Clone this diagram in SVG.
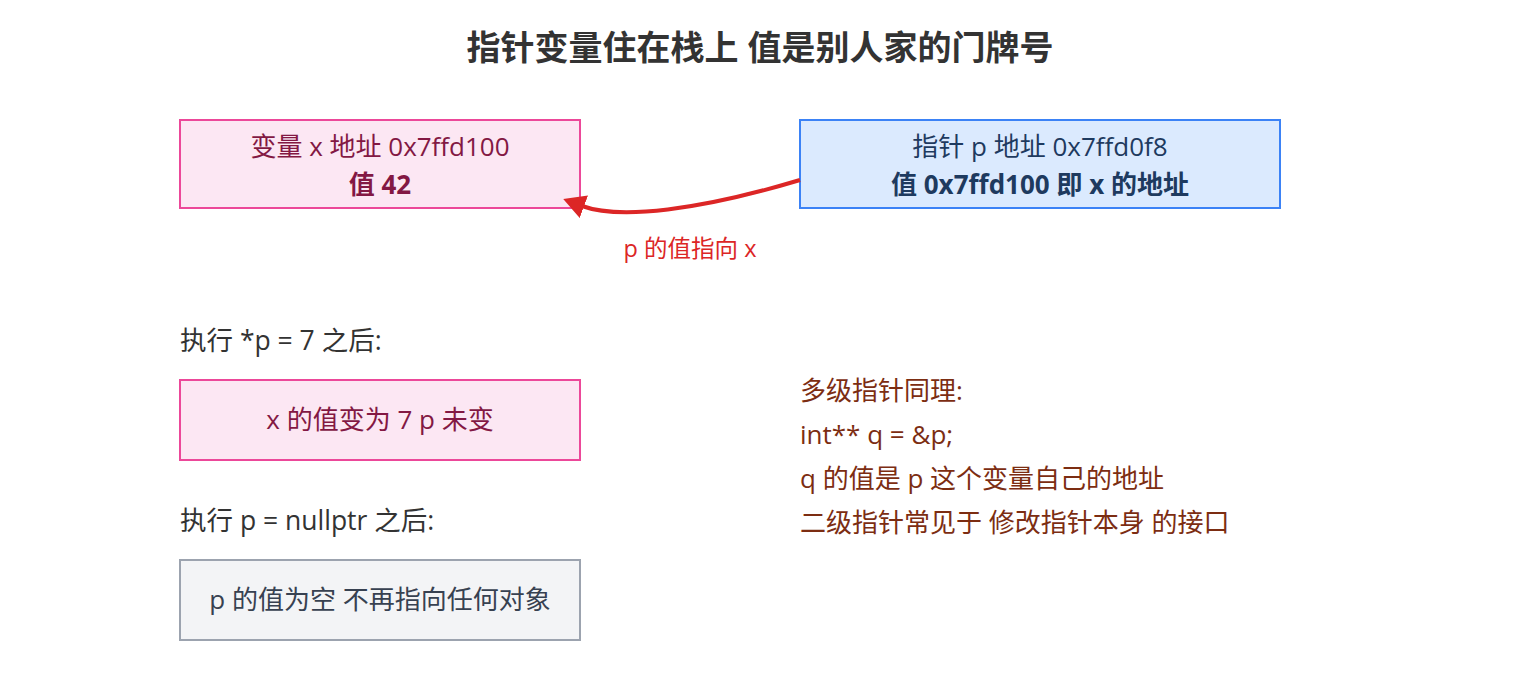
<svg xmlns="http://www.w3.org/2000/svg" width="1520" height="680" viewBox="0 0 1520 680">
<style>
text{font-family:"Open Sans","Noto Sans CJK SC",sans-serif;}
.t{font-size:26px;text-anchor:middle;}
.pink rect{fill:#fce7f3;stroke:#ec4899;stroke-width:2;}
.pink text{fill:#831843;}
.blue rect{fill:#dbeafe;stroke:#3b82f6;stroke-width:2;}
.blue text{fill:#1e3a5f;}
.gray rect{fill:#f3f4f6;stroke:#9ca3af;stroke-width:2;}
.gray text{fill:#374151;}
.b{font-weight:bold;}
.lbl{font-size:26.5px;fill:#333;}
.note{font-size:26px;fill:#7c2d12;}
</style>
<defs>
<marker id="ah" viewBox="0 0 22 24" refX="2" refY="12" markerWidth="22" markerHeight="24" orient="auto" markerUnits="userSpaceOnUse">
<path d="M0,0 L22,12 L0,24 z" fill="#dc2626"/>
</marker>
</defs>
<rect width="1520" height="680" fill="#fff"/>
<text x="760" y="60" text-anchor="middle" font-size="34" font-weight="bold" fill="#333">指针变量住在栈上 值是别人家的门牌号</text>
<g id="node-x" class="pink">
<rect x="180" y="120" width="400" height="88"/>
<text class="t" x="380" y="156">变量 x 地址 0x7ffd100</text>
<text class="t b" x="380" y="194">值 42</text>
</g>
<g id="node-p" class="blue">
<rect x="800" y="120" width="480" height="88"/>
<text class="t" x="1040" y="156">指针 p 地址 0x7ffd0f8</text>
<text class="t b" x="1040" y="194">值 0x7ffd100 即 x 的地址</text>
</g>
<g id="connectors">
<path d="M800,180 C700,210 620,220 582,206" fill="none" stroke="#dc2626" stroke-width="4" marker-end="url(#ah)"/>
<text x="690" y="257" text-anchor="middle" font-size="23.5" fill="#dc2626">p 的值指向 x</text>
</g>
<text class="lbl" x="180" y="350">执行 *p = 7 之后:</text>
<g id="node-x7" class="pink">
<rect x="180" y="380" width="400" height="80"/>
<text class="t" x="380" y="429">x 的值变为 7 p 未变</text>
</g>
<text class="lbl" x="180" y="530">执行 p = nullptr 之后:</text>
<g id="node-null" class="gray">
<rect x="180" y="560" width="400" height="80"/>
<text class="t" x="380" y="609">p 的值为空 不再指向任何对象</text>
</g>
<g id="note">
<text class="note" x="800" y="400">多级指针同理:</text>
<text class="note" x="800" y="444">int** q = &amp;p;</text>
<text class="note" x="800" y="488">q 的值是 p 这个变量自己的地址</text>
<text class="note" x="800" y="532">二级指针常见于 修改指针本身 的接口</text>
</g>
</svg>
